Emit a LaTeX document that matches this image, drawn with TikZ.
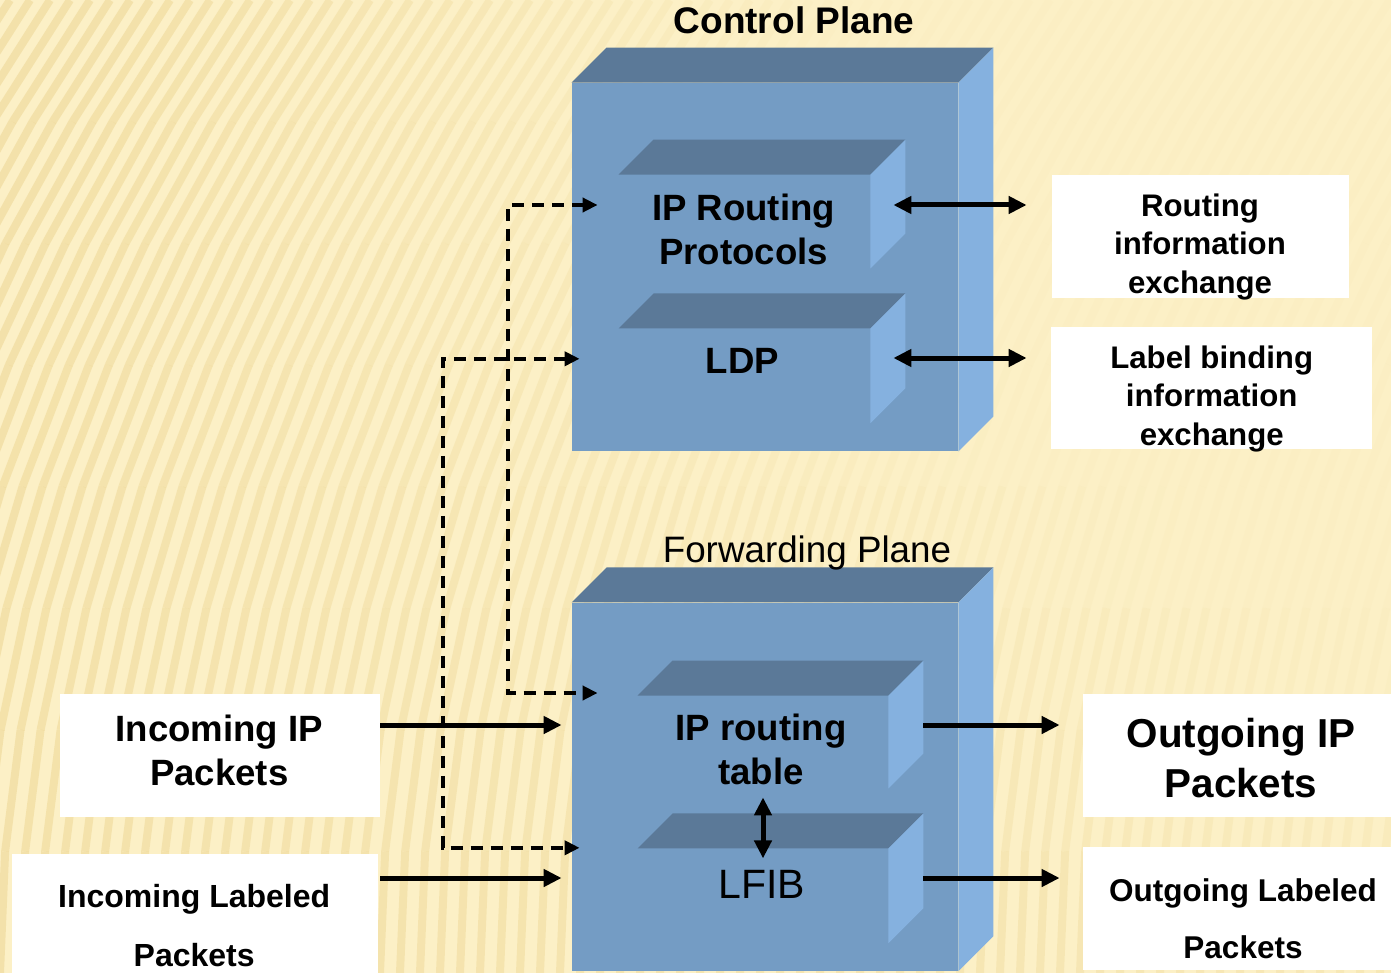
\documentclass[tikz,border=0pt]{standalone}
\usepackage{fontspec}
\setmainfont{Liberation Sans}
\usepackage{tikz}
\usetikzlibrary{calc,positioning,arrows.meta}
\definecolor{planefront}{HTML}{749CC4}
\definecolor{planetop}{HTML}{5B7998}
\definecolor{planeside}{HTML}{85B1DF}
\definecolor{paper}{HTML}{FCF0C6}
\definecolor{pleat}{HTML}{E4C674}
\tikzset{
  face/.style={ % front face of a plane or of a table block
    rectangle, fill=planefront, inner sep=0pt
  },
  blocktext/.style={ % caption printed on a block
    align=center, inner sep=0pt,
    font=\bfseries\fontsize{18.3}{22}\selectfont
  },
  tag/.style={ % white box beside the planes
    rectangle, fill=white, inner sep=0pt
  },
  tagtext/.style 2 args={ % caption inside a white box
    align=center, inner sep=0pt,
    font=\bfseries\fontsize{#1}{#2}\selectfont
  },
  flow/.style={ % solid connector
    line width=2.5pt, >={Triangle[length=9pt,width=8.5pt]}
  },
  ctrl/.style={ % dashed connector between the planes
    line width=2pt, dash pattern=on 6pt off 4pt,
    >={Triangle[length=7.5pt,width=7pt]}
  }
}

\begin{document}
\begin{tikzpicture}[x=0.5pt, y=-0.5pt]
  \useasboundingbox (0,0) rectangle (1391,973);
  \clip (0,0) rectangle (1391,973);

  % paper with pleats
  \fill[paper] (0,0) rectangle (1391,973);
  \foreach \s in {-340,-320,...,1400}{
    \foreach \t in {0,0.125,...,0.875}{
      \pgfmathsetmacro\tb{\t+0.125}
      \pgfmathsetmacro\op{max(0.03,0.34-0.38*max(0,\s+200*\t)/1000*(\t+0.3))}
      \draw[pleat, opacity=\op, line width=4pt]
        (\s+330*\t*\t, 973-973*\t) -- (\s+330*\tb*\tb, 973-973*\tb);
    }
  }

  % planes and blocks
  \node[face, minimum width=193pt, minimum height=184pt] (cp) at (765,267) {};
  \node[face, minimum width=193pt, minimum height=184pt, below=75.5pt of cp] (fp) {};
  \node[face, minimum width=125.5pt, minimum height=46.5pt] (iprp) at (744.5,221.5) {};
  \node[face, minimum width=125.5pt, minimum height=47pt, below=30pt of iprp] (ldp) {};
  \node[face, minimum width=125pt, minimum height=46pt] (iprt) at (763,742) {};
  \node[face, minimum width=125pt, minimum height=47pt, below=30pt of iprt] (lfib) {};

  \foreach \b in {cp,fp,iprp,ldp,iprt,lfib}{
    \fill[planetop] (\b.north west) -- ++(35,-35) -- ($(\b.north east)+(35,-35)$) -- (\b.north east) -- cycle;
    \fill[planeside] (\b.north east) -- ++(35,-35) -- ($(\b.south east)+(35,-35)$) -- (\b.south east) -- cycle;
  }

  \node[font=\bfseries\fontsize{18.5}{22}\selectfont, anchor=base] (cptitle) at (794,34) {Control Plane};
  \node[font=\fontsize{18.4}{22}\selectfont, anchor=base] (fptitle) at (807,562) {Forwarding Plane};

  \node[blocktext] (iprptext) at (743.5,229) {IP Routing\\Protocols};
  \node[blocktext, anchor=base] (ldptext) at (742.5,373) {LDP};
  \node[blocktext] (iprttext) at (761,749.5) {IP routing\\table};
  \node[blocktext, font=\fontsize{20.5}{24}\selectfont, anchor=base] (lfibtext) at (761.5,898) {LFIB};

  % white boxes
  \node[tag, minimum width=148.5pt, minimum height=61.5pt] (rie) at (1200.5,236.5) {};
  \node[tagtext={15.6}{19.2}] (rietext) at (1200,246.8) {Routing\\information\\exchange};
  \node[tag, minimum width=160.5pt, minimum height=61pt] (lbie) at (1211.5,388) {};
  \node[tagtext={15.6}{19.2}] (lbietext) at (1211.7,398.8) {Label binding\\information\\exchange};
  \node[tag, minimum width=160pt, minimum height=61.5pt] (inip) at (220,755.5) {};
  \node[tagtext={18.3}{22.2}] (iniptext) at (219.2,750.5) {Incoming IP\\Packets};
  \node[tag, minimum width=183pt, minimum height=68pt] (inlab) at (195,922) {};
  \node[tagtext={16}{29.7}] (inlabtext) at (194.2,925.5) {Incoming Labeled\\Packets};
  \node[tag, minimum width=158.5pt, minimum height=61.5pt] (outip) at (1241.5,755.5) {};
  \node[tagtext={20.2}{25}] (outiptext) at (1241,758) {Outgoing IP\\Packets};
  \node[tag, minimum width=158.5pt, minimum height=61.5pt] (outlab) at (1241.5,908.5) {};
  \node[tagtext={15.75}{28.3}] (outlabtext) at (1243,919) {Outgoing Labeled\\Packets};

  % rows of the connectors
  \coordinate (rip) at (0,205);
  \coordinate (rlb) at (0,358);
  \coordinate (rpk) at (0,725);
  \coordinate (rlab) at (0,878);

  \draw[flow,<->] ($(iprp.east |- rip)+(23,0)$) -- ($(rie.west |- rip)+(-25,0)$);
  \draw[flow,<->] ($(ldp.east |- rlb)+(23,0)$) -- ($(lbie.west |- rlb)+(-24,0)$);
  \draw[flow,->] (inip.east |- rpk) -- ($(fp.west |- rpk)+(-10,0)$);
  \draw[flow,->] ($(inlab.east |- rlab)+(2,0)$) -- ($(fp.west |- rlab)+(-10,0)$);
  \draw[flow,->] ($(iprt.east |- rpk)+(35,0)$) -- ($(outip.west |- rpk)+(-23,0)$);
  \draw[flow,->] ($(lfib.east |- rlab)+(35,0)$) -- ($(outlab.west |- rlab)+(-23,0)$);
  \draw[flow,<->] ($(iprt.south)+(0,9)$) -- ($(lfib.north)+(0,10)$);

  \draw[ctrl,<->] ($(iprp.west)+(-21,-16.5)$) -- ++(-90,0) |- ($(iprt.west)+(-40,-49)$);
  \draw[ctrl,<->] ($(ldp.west)+(-39,-17)$) -- ++(-137,0) |- ($(lfib.west)+(-58,-48)$);
\end{tikzpicture}
\end{document}
